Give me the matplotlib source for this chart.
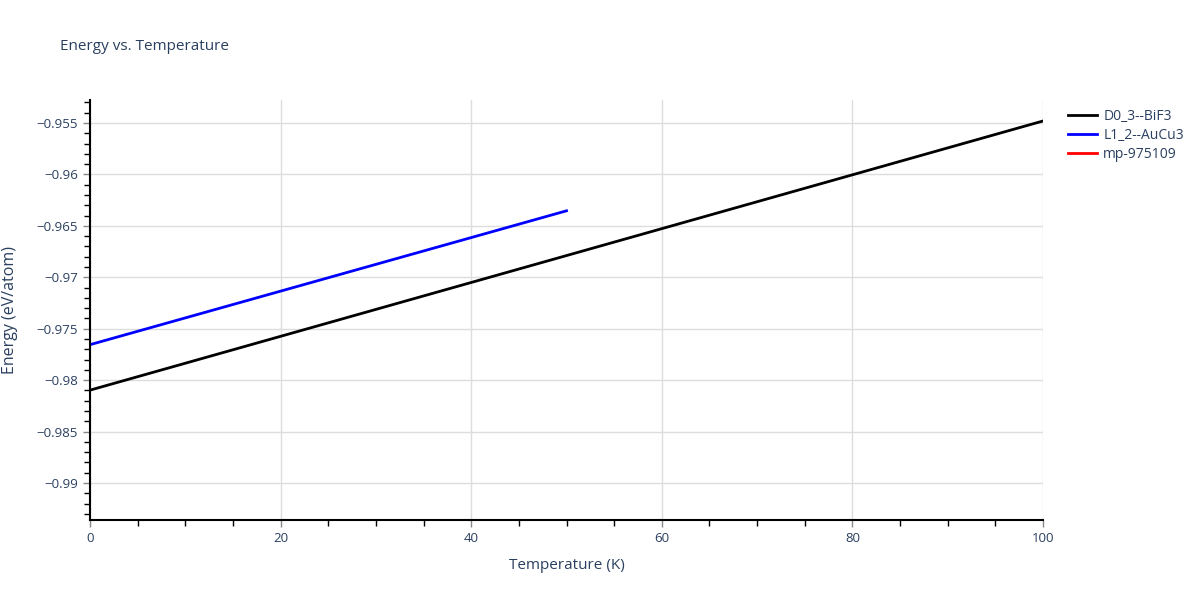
import numpy as np
import matplotlib.pyplot as plt
from matplotlib.ticker import MultipleLocator, FuncFormatter

plt.rcParams['font.family'] = ['Open Sans', 'DejaVu Sans']

# Data (endpoints of the straight lines)
temp_bif3 = [0, 100]
energy_bif3 = [-0.98097, -0.95481]
temp_aucu3 = [0, 50]
energy_aucu3 = [-0.97655, -0.96354]
temp_mp = []
energy_mp = []

text_col = '#2a3f5f'

fig = plt.figure(figsize=(12, 6), dpi=100)
ax = fig.add_axes([90 / 1200, 80 / 600, 953 / 1200, 420 / 600])

ax.plot(temp_bif3, energy_bif3, color='black', lw=2, label='D0_3--BiF3')
ax.plot(temp_aucu3, energy_aucu3, color='blue', lw=2, label='L1_2--AuCu3')
ax.plot(temp_mp, energy_mp, color='red', lw=2, label='mp-975109')

ax.set_xlim(0, 100)
ax.set_ylim(-0.99359, -0.95277)

ax.xaxis.set_major_locator(MultipleLocator(20))
ax.xaxis.set_minor_locator(MultipleLocator(5))
ax.yaxis.set_major_locator(MultipleLocator(0.005))
ax.yaxis.set_minor_locator(MultipleLocator(0.001))


def fmt(v, pos):
    s = f'{v:.3f}'.rstrip('0').rstrip('.')
    return s.replace('-', '\u2212')


ax.yaxis.set_major_formatter(FuncFormatter(fmt))
ax.xaxis.set_major_formatter(FuncFormatter(lambda v, p: f'{v:g}'))

ax.grid(True, which='major', color='#dddddd', lw=1)
ax.set_axisbelow(True)

for side in ['top', 'right']:
    ax.spines[side].set_visible(False)
for side in ['left', 'bottom']:
    ax.spines[side].set_color('black')
    ax.spines[side].set_linewidth(1.5)

ax.tick_params(which='major', direction='out', length=5, width=1, color='#888888',
               labelsize=9.5, labelcolor=text_col)
ax.tick_params(axis='x', which='major', pad=4)
ax.tick_params(which='minor', direction='out', length=4, width=1, color='black')

ax.set_xlabel('Temperature (K)', fontsize=11, color=text_col, labelpad=9)
ax.set_ylabel('Energy (eV/atom)', fontsize=11.5, color=text_col)
ax.yaxis.set_label_coords(-72 / 953, 0.5)

fig.text(60 / 1200, 1 - 47 / 600, 'Energy vs. Temperature', fontsize=11,
         color=text_col, va='center', ha='left')

leg = ax.legend(loc='upper left', bbox_to_anchor=(1.013, 1.008), frameon=False,
                fontsize=10, handlelength=2.1, handletextpad=0.45, labelspacing=0.28)
for t in leg.get_texts():
    t.set_color(text_col)

fig.savefig('out.png', dpi=100)
